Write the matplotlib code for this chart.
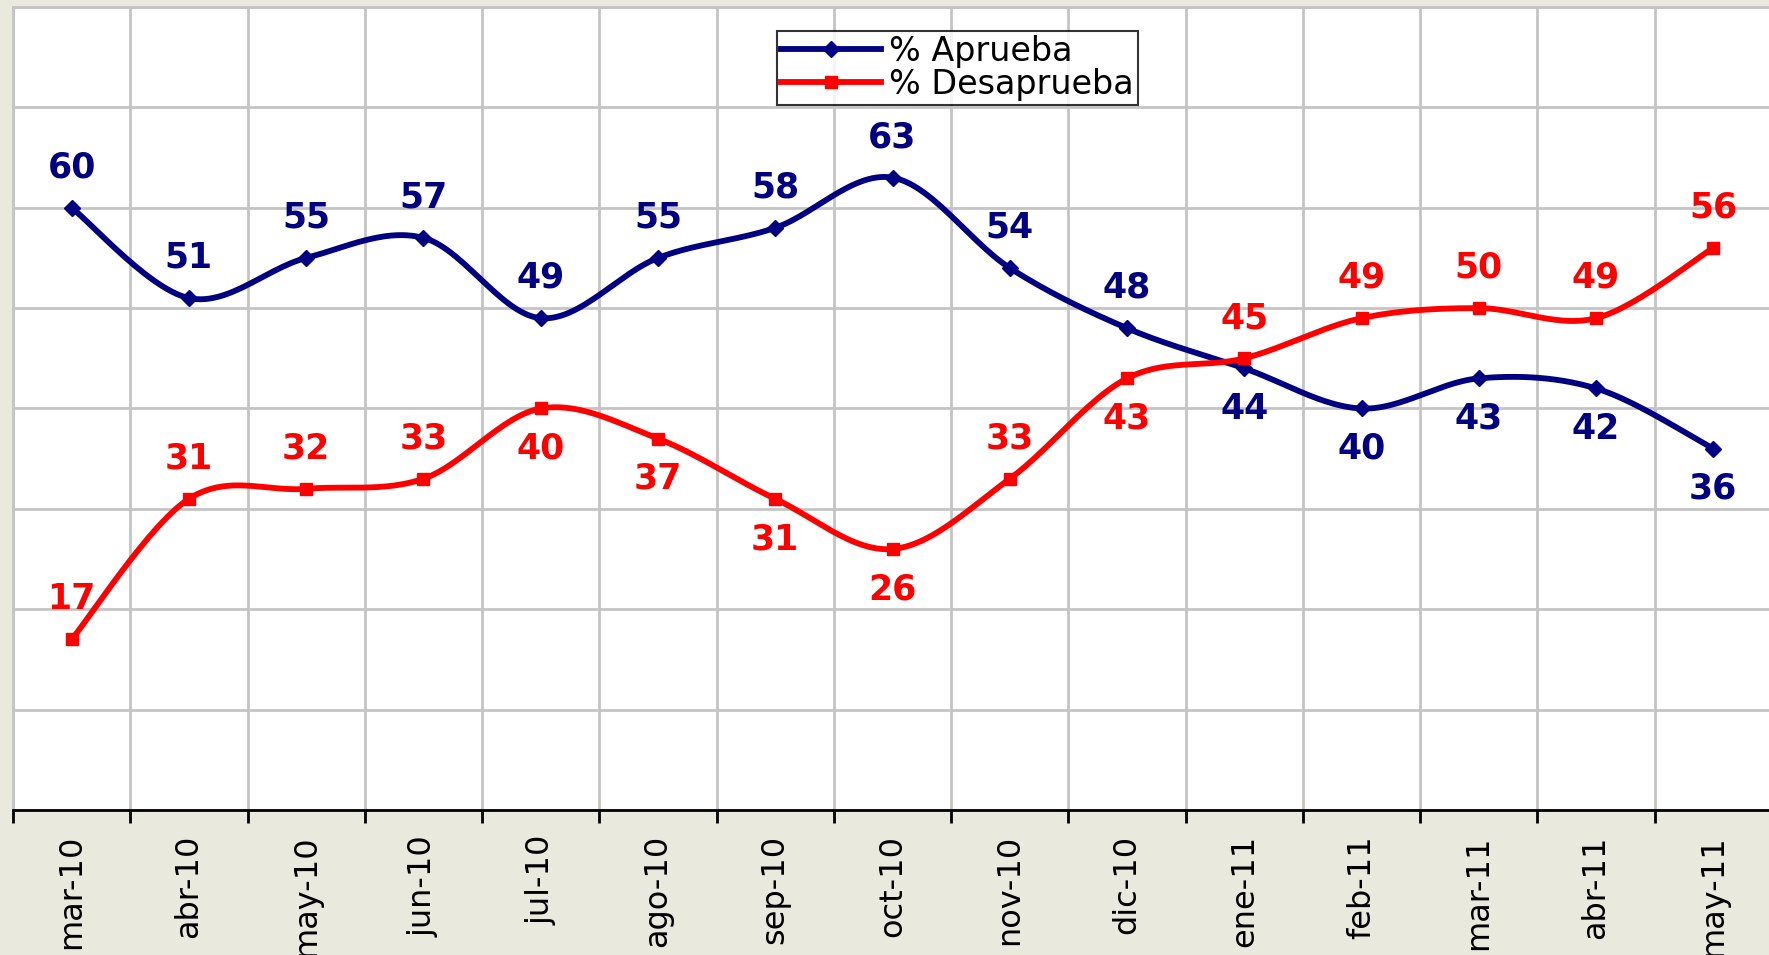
import numpy as np
import matplotlib.pyplot as plt

# datos
meses = ['mar-10', 'abr-10', 'may-10', 'jun-10', 'jul-10', 'ago-10', 'sep-10', 'oct-10',
         'nov-10', 'dic-10', 'ene-11', 'feb-11', 'mar-11', 'abr-11', 'may-11']
aprueba = [60, 51, 55, 57, 49, 55, 58, 63, 54, 48, 44, 40, 43, 42, 36]
desaprueba = [17, 31, 32, 33, 40, 37, 31, 26, 33, 43, 45, 49, 50, 49, 56]

# posicion de etiquetas: 1 arriba, -1 abajo
pos_aprueba = [1, 1, 1, 1, 1, 1, 1, 1, 1, 1, -1, -1, -1, -1, -1]
pos_desaprueba = [1, 1, 1, 1, -1, -1, -1, -1, 1, -1, 1, 1, 1, 1, 1]

AZUL = '#000080'
ROJO = '#FF0000'
FONDO = '#EAE9DD'
GRIS = '#C4C4C4'


# curva suavizada tipo Excel (Bezier con puntos de control de Catmull-Rom)
def suavizar(xs, ys, n=30):
    p = np.column_stack([xs, ys]).astype(float)
    ext = np.vstack([p[0], p, p[-1]])
    out = []
    for i in range(len(p) - 1):
        p0, p1, p2, p3 = ext[i], ext[i + 1], ext[i + 2], ext[i + 3]
        c1 = p1 + (p2 - p0) / 6
        c2 = p2 - (p3 - p1) / 6
        t = np.linspace(0, 1, n)[:, None]
        seg = ((1 - t) ** 3) * p1 + 3 * ((1 - t) ** 2) * t * c1 + 3 * (1 - t) * t ** 2 * c2 + t ** 3 * p2
        out.append(seg if i == 0 else seg[1:])
    s = np.vstack(out)
    return s[:, 0], s[:, 1]


fig = plt.figure(figsize=(17.69, 9.55), dpi=100, facecolor=FONDO)
ax = fig.add_axes([13 / 1769, 145 / 955, 1759 / 1769, 803 / 955])
ax.set_facecolor('white')

x = np.arange(len(meses))

for vals, pos, color, marker, ms, nombre in [
        (aprueba, pos_aprueba, AZUL, 'D', 8, '% Aprueba'),
        (desaprueba, pos_desaprueba, ROJO, 's', 9, '% Desaprueba')]:
    sx, sy = suavizar(x, vals)
    ax.plot(sx, sy, color=color, lw=4.2, solid_capstyle='round', zorder=3)
    ax.plot(x, vals, linestyle='none', marker=marker, ms=ms, color=color, zorder=4)
    ax.plot([], [], color=color, lw=4.2, marker=marker, ms=ms, label=nombre)
    for xi, v, p in zip(x, vals, pos):
        ax.annotate(str(v), (xi, v), xytext=(0, 29 * p), textcoords='offset points',
                    ha='center', va='center', fontsize=25, fontweight='bold', color=color)

ax.set_xlim(-0.5, 14.5)
ax.set_ylim(0, 80)

ax.set_xticks(x)
ax.set_xticklabels(meses, rotation=90, fontsize=23, va='top')
ax.set_xticks(np.arange(-0.5, 15, 1), minor=True)
ax.tick_params(axis='x', which='major', length=0, pad=18)
ax.tick_params(axis='x', which='minor', length=9, width=2, direction='out', color='black')
ax.set_yticks(np.arange(0, 81, 10))
ax.tick_params(axis='y', length=0, labelleft=False)

ax.grid(True, which='minor', axis='x', color=GRIS, lw=2)
ax.grid(True, which='major', axis='y', color=GRIS, lw=2)
ax.set_axisbelow(True)

for lado in ['left', 'top', 'right']:
    ax.spines[lado].set_color(GRIS)
    ax.spines[lado].set_linewidth(2)
ax.spines['bottom'].set_color('black')
ax.spines['bottom'].set_linewidth(2)

leg = ax.legend(loc='upper left', bbox_to_anchor=(764 / 1759, 1 - 24 / 803), fontsize=24,
                frameon=True, fancybox=False, edgecolor='black', handlelength=3.0,
                handletextpad=0.25, borderpad=0.12, labelspacing=0.0, borderaxespad=0)
leg.get_frame().set_linewidth(1.5)

plt.savefig('out.png', dpi=100, facecolor=FONDO)
